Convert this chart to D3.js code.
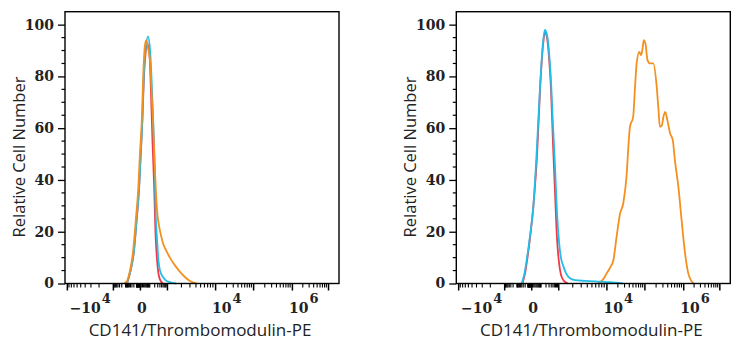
<!DOCTYPE html>
<html>
<head>
<meta charset="utf-8">
<title>CD141 histograms</title>
<script src="https://cdn.jsdelivr.net/npm/d3@7"></script>
<style>
  body { margin: 0; background: #fff; }
</style>
</head>
<body>
<script>
// x values are display channels (0-1024, logicle-like axis), y values are % of max
var blankA = [[232,0],[245,5],[257,12],[268,25],[277,37],[283,50],[289,63],[295,80],[301,89],[306,93],[316,88],[321,75],[327,55],[333,38],[338,20],[344,9],[349,4],[355,1.5],[366,0]];
var isoA = [[231,0],[245,5],[257,12],[268,25],[277,37],[283,50],[289,63],[295,82],[301,90],[310,95.5],[318,90],[323,80],[329,65],[335,45],[338,30],[344,17],[349,9],[355,5],[366,2.5],[377,1.2],[392,0.5],[415,0]];
var stainA = [[220,0],[232,1],[243,5],[254,12],[265,25],[274,37],[280,50],[287,63],[293,82],[297,90],[303,94],[308,92],[314,89],[318,86],[323,75],[330,60],[336,44],[341,33],[346,26],[352,22],[360,18],[368,15],[377,13],[392,10],[411,7],[430,4.5],[448,2.5],[467,1],[493,0]];

var blankB = [[247,0],[257,4],[266,10],[277,19],[288,30],[302,50],[313,75],[325,93],[331,97],[339,95],[346,88],[354,75],[361,55],[369,35],[376,18],[384,8],[391,3.5],[402,1],[417,0]];
var isoB = [[244,0],[253,3],[263,9],[275,18],[288,29.6],[300,50],[313,76],[325,94],[331,98],[339,96],[346,90],[354,78],[361,62],[369,45],[376,28],[384,16],[391,10],[399,7],[410,4],[425,2],[444,1.3],[481,1],[537,0.7],[574,0.5],[623,0]];
var stainB = [[531,0],[548,1.5],[562,3.9],[574,6],[587,9],[599,18],[612,27],[624,31],[637,42.5],[643,52.8],[649,60.5],[661,64.4],[668,76],[674,85],[684,89.5],[690,88.2],[695,90],[701,94],[708,92],[714,86.5],[724,85],[736,85],[749,76],[755,68],[761,60.5],[768,61],[774,64.4],[781,66.3],[789,63],[799,58],[809,55.4],[817,47.6],[830,37.3],[842,24.5],[855,11.6],[867,3.9],[886,0]];

var majorVals = [-1e5, -1e4, 0, 1e3, 1e4, 1e5, 1e6, 1e7];
var majorCh = [7, 179, 280, 381, 561, 703, 848, 983];
var xLabels = [
  {v: -1e4, base: "\u221210", sup: "4"},
  {v: 0, base: "0", sup: ""},
  {v: 1e4, base: "10", sup: "4"},
  {v: 1e6, base: "10", sup: "6"}
];
var yTicks = [0, 20, 40, 60, 80, 100];
var xTitle = "CD141/Thrombomodulin-PE";
var yTitle = "Relative Cell Number";

var colors = {blank: "#ee3a4a", iso: "#23bde8", stain: "#f3901f"};

var W = 746, H = 350;
var svg = d3.select("body").append("svg").attr("width", W).attr("height", H);

function chOf(v) {
  var i = majorVals.indexOf(v);
  return majorCh[i];
}

// minor tick channels
function minorTicks() {
  var out = [];
  var m, k;
  // -1e5 .. -1e4
  for (m = 2; m <= 9; m++) out.push(chOf(-1e4) - (chOf(-1e4) - chOf(-1e5)) * Math.log10(m));
  // -1e4 .. 0 and 0 .. 1e3 (compressed linear zone)
  for (k = 1; k <= 3; k++) {
    for (m = 1; m <= 9; m++) {
      var v = m * Math.pow(10, k);
      if (v >= 1e4) continue;
      out.push(chOf(0) - (chOf(0) - chOf(-1e4)) * Math.asinh(v / 150) / Math.asinh(1e4 / 150));
      if (v < 1e3) out.push(chOf(0) + (chOf(1e3) - chOf(0)) * Math.asinh(v / 60) / Math.asinh(1e3 / 60));
    }
  }
  // positive decades
  for (var d = 3; d < 7; d++) {
    var p0 = chOf(Math.pow(10, d)), p1 = chOf(Math.pow(10, d + 1));
    for (m = 2; m <= 9; m++) out.push(p0 + (p1 - p0) * Math.log10(m));
  }
  return out;
}
var minors = minorTicks();

function drawPanel(ox, series) {
  var left = 65 + ox, right = 339 + ox, top = 11.7, bottom = 283.5;
  var x = d3.scaleLinear().domain([0, 1024]).range([left, right]);
  var y = d3.scaleLinear().domain([0, 105]).range([bottom, top]);
  var g = svg.append("g");

  // curves
  var line = d3.line().x(function(d) { return x(d[0]); }).y(function(d) { return y(d[1]); }).curve(d3.curveMonotoneX);
  series.forEach(function(s) {
    g.append("path").datum(s.data).attr("d", line)
      .attr("fill", "none").attr("stroke", s.color).attr("stroke-width", 1.8)
      .attr("stroke-linejoin", "round");
  });

  // frame
  g.append("rect").attr("x", left).attr("y", top).attr("width", right - left).attr("height", bottom - top)
    .attr("fill", "none").attr("stroke", "#000").attr("stroke-width", 1.4);

  // y axis
  var yAxis = d3.axisLeft(y).tickValues(yTicks).tickSize(7).tickPadding(4).tickFormat(d3.format("d"));
  var ya = g.append("g").attr("transform", "translate(" + left + ",0)").call(yAxis);
  ya.select(".domain").remove();
  ya.selectAll("line").attr("stroke", "#000").attr("stroke-width", 1.3);
  ya.selectAll("text").attr("font-family", "DejaVu Serif").attr("font-size", 14).attr("font-weight", "bold").attr("fill", "#222");
  var yMinor = d3.range(5, 100, 5).filter(function(v) { return v % 20 !== 0; });
  g.selectAll(".ymin").data(yMinor).enter().append("line")
    .attr("x1", left - 3.5).attr("x2", left).attr("y1", function(d) { return y(d); }).attr("y2", function(d) { return y(d); })
    .attr("stroke", "#000").attr("stroke-width", 1.2);

  // x axis
  var xAxis = d3.axisBottom(x).tickValues(majorCh).tickSize(7).tickFormat("");
  var xa = g.append("g").attr("transform", "translate(0," + bottom + ")").call(xAxis);
  xa.select(".domain").remove();
  xa.selectAll("line").attr("stroke", "#000").attr("stroke-width", 1.5);
  g.selectAll(".xmin").data(minors).enter().append("line")
    .attr("x1", function(d) { return x(d); }).attr("x2", function(d) { return x(d); })
    .attr("y1", bottom).attr("y2", bottom + 4)
    .attr("stroke", "#000").attr("stroke-width", 1.1);

  xLabels.forEach(function(l) {
    var px = x(chOf(l.v));
    var t = g.append("text").attr("y", 313).attr("font-family", "DejaVu Serif").attr("font-weight", "bold")
      .attr("font-size", 14).attr("fill", "#222");
    if (l.v < 0) { t.attr("x", px - 2).attr("text-anchor", "end"); }
    else { t.attr("x", px - 3).attr("text-anchor", "start"); }
    t.append("tspan").text(l.base);
    if (l.sup) t.append("tspan").attr("dx", 1).attr("dy", -10).attr("font-size", 13).text(l.sup);
  });

  // titles
  g.append("text").attr("x", 200 + ox).attr("y", 336).attr("text-anchor", "middle")
    .attr("font-family", "Open Sans").attr("font-size", 17).attr("fill", "#222").text(xTitle);
  g.append("text").attr("transform", "translate(" + (25 + ox) + ",157) rotate(-90)").attr("text-anchor", "middle")
    .attr("font-family", "Open Sans").attr("font-size", 16.5).attr("fill", "#222").text(yTitle);
}

drawPanel(0, [
  {data: blankA, color: colors.blank},
  {data: isoA, color: colors.iso},
  {data: stainA, color: colors.stain}
]);
drawPanel(391.3, [
  {data: blankB, color: colors.blank},
  {data: stainB, color: colors.stain},
  {data: isoB, color: colors.iso}
]);
</script>
</body>
</html>
